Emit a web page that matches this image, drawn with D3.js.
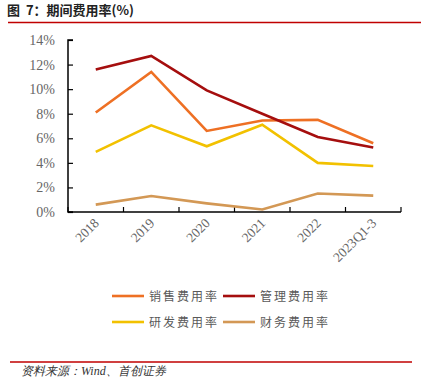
<!DOCTYPE html>
<html><head><meta charset="utf-8">
<script src="https://cdn.jsdelivr.net/npm/d3@7"></script>
<style>body{margin:0;background:#fff}svg{display:block}</style>
</head><body>
<svg id="c" width="421" height="377"></svg>
<script>
const categories = ["2018","2019","2020","2021","2022","2023Q1-3"];
const sales   = [8.1, 11.4, 6.6, 7.45, 7.5, 5.6];
const admin   = [11.6, 12.7, 9.9, 8.0, 6.1, 5.25];
const rnd     = [4.9, 7.05, 5.35, 7.1, 4.0, 3.75];
const finance = [0.6, 1.3, 0.7, 0.2, 1.5, 1.33];
const yTicks  = [0,2,4,6,8,10,12,14];
const seriesNames = ["销售费用率","管理费用率","研发费用率","财务费用率"];
const seriesColors = ["#EE7024","#A50E0E","#F2C100","#D39855"];
const seriesData = [sales, admin, rnd, finance];

const svg = d3.select("#c");
const serif = "'Liberation Serif','DejaVu Serif',serif";
const sans = "'Noto Sans CJK SC','Noto Sans',sans-serif";

// title
svg.append("text").attr("x",7).attr("y",15).attr("font-family",sans).attr("font-weight","bold")
  .attr("font-size",13).attr("fill","#222").attr("xml:space","preserve").style("white-space","pre")
  .text("图\u00A0\u00A07：期间费用率(%)");
svg.append("line").attr("x1",8).attr("x2",421).attr("y1",22.5).attr("y2",22.5).attr("stroke","#C00000").attr("stroke-width",1.5);

const x = d3.scaleBand().domain(categories).range([68,401]);
const y = d3.scaleLinear().domain([0,14]).range([212,40]);

const ya = svg.append("g").attr("transform","translate(68,0)")
  .call(d3.axisRight(y).tickValues(yTicks).tickSize(5).tickFormat(""));
ya.select(".domain").attr("d","M5,40H0V212H5").attr("stroke","#000").attr("stroke-width",1.5);
ya.selectAll(".tick line").attr("stroke","#000").attr("stroke-width",1.2);
svg.append("g").selectAll("text").data(yTicks).join("text")
  .attr("x",55).attr("y",d=>y(d)+5).attr("text-anchor","end")
  .attr("font-family",serif).attr("font-size",14).attr("fill","#666").text(d=>d+"%");

const xa = svg.append("g").attr("transform","translate(0,212)")
  .call(d3.axisTop(x).tickSize(0).tickFormat(""));
xa.select(".domain").attr("stroke","#000").attr("stroke-width",1.5).attr("d","M68,0H401");
const edges = categories.map(c=>x(c)).concat([x.range()[1]]);
svg.append("g").selectAll("line").data(edges).join("line")
  .attr("x1",d=>d).attr("x2",d=>d).attr("y1",212).attr("y2",207)
  .attr("stroke","#000").attr("stroke-width",1.2);
svg.append("g").selectAll("text").data(categories).join("text")
  .attr("transform",d=>`translate(${x(d)+x.bandwidth()/2+4},${224}) rotate(-45)`)
  .attr("text-anchor","end").attr("font-family",serif).attr("font-size",13.5).attr("fill","#666").text(d=>d);

const line = d3.line().x((d,i)=>x(categories[i])+x.bandwidth()/2).y(d=>y(d));
const order = [3,2,0,1];
order.forEach(k=>{
  svg.append("path").datum(seriesData[k]).attr("d",line).attr("fill","none")
    .attr("stroke",seriesColors[k]).attr("stroke-width",2.6);
});

// legend
const lg = [[112,296],[223,296],[112,322],[223,322]];
seriesNames.forEach((n,i)=>{
  const [lx,ly]=lg[i];
  svg.append("line").attr("x1",lx).attr("x2",lx+32).attr("y1",ly).attr("y2",ly)
    .attr("stroke",seriesColors[i]).attr("stroke-width",2.6);
  svg.append("text").attr("x",lx+37).attr("y",ly+5).attr("font-family",sans).attr("font-size",12)
    .attr("letter-spacing",2).attr("fill","#595959").text(n);
});

// footer
svg.append("line").attr("x1",10).attr("x2",412).attr("y1",362).attr("y2",362).attr("stroke","#C00000").attr("stroke-width",1.5);
svg.append("text").attr("x",21).attr("y",375).attr("font-family",serif).attr("font-style","italic")
  .attr("font-size",12).attr("fill","#333").text("资料来源：Wind、首创证券");
</script>
</body></html>
